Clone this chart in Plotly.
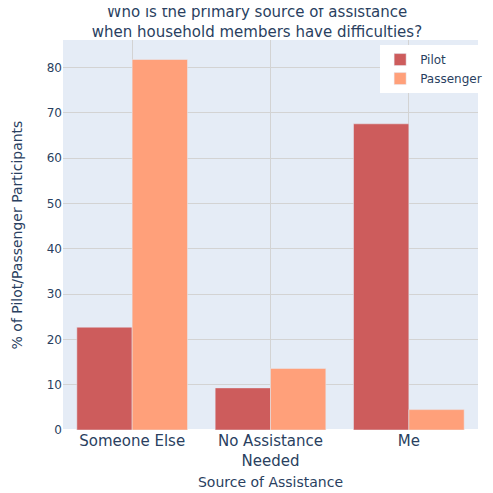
import plotly.graph_objects as go

categories = ["Someone Else", "No Assistance<br>Needed", "Me"]
pilot = [22.7, 9.3, 67.6]
passenger = [81.8, 13.6, 4.5]

fig = go.Figure()
fig.add_trace(go.Bar(name="Pilot", x=categories, y=pilot, marker_color="indianred"))
fig.add_trace(go.Bar(name="Passenger", x=categories, y=passenger, marker_color="lightsalmon"))

fig.update_layout(
    width=493, height=493,
    font=dict(family="DejaVu Sans", color="#2a3f5f"),
    title=dict(text="Who is the primary source of assistance<br>when household members have difficulties?",
               x=0.505, xanchor="center", y=0.981, yanchor="middle", font=dict(size=15)),
    margin=dict(l=55, r=23, t=32, b=71),
    barmode="group",
    legend=dict(x=1.022, y=0.987, xanchor="right", yanchor="top", bgcolor="white", font=dict(size=12)),
    xaxis=dict(title=dict(text="Source of Assistance", font=dict(size=14), standoff=8),
               tickfont=dict(size=15), gridcolor="lightgray", showgrid=True),
    yaxis=dict(title=dict(text="% of Pilot/Passenger Participants", font=dict(size=14), standoff=20),
               tickfont=dict(size=12), gridcolor="lightgray", automargin=False),
)
fig.write_html("out.html")
